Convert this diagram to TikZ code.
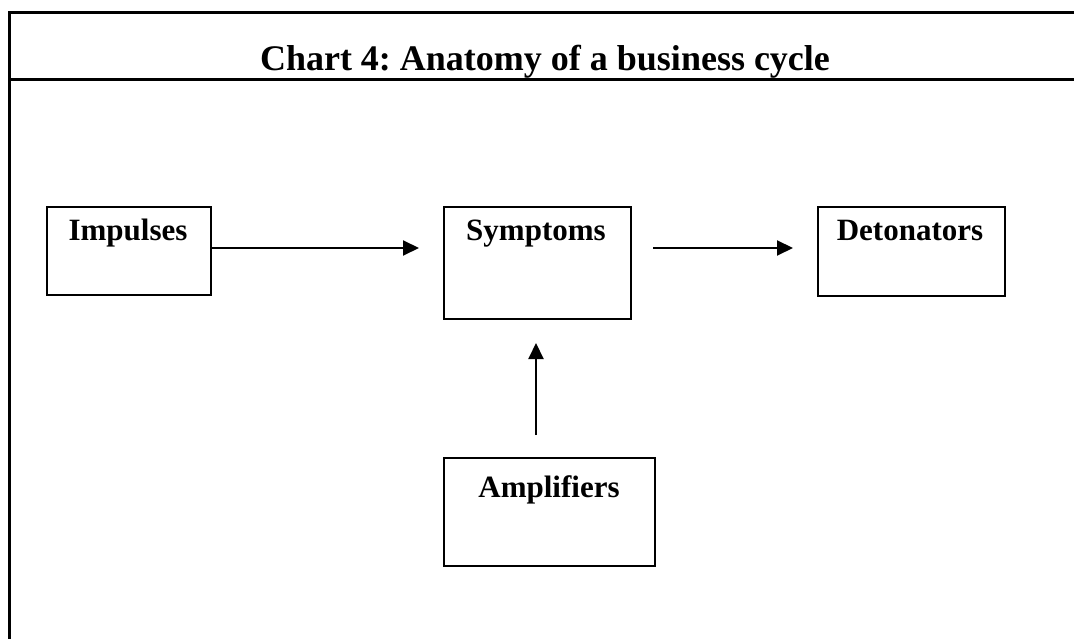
\documentclass[tikz,border=0pt]{standalone}
\usepackage{fontspec}
\setmainfont{Liberation Serif}
\usetikzlibrary{arrows.meta}
\frenchspacing
\tikzset{
  frameline/.style={line width=3pt},
  box/.style={draw, line width=1.8pt, rectangle, anchor=north west, inner sep=0pt},
  lbl/.style={font=\fontsize{31}{31}\selectfont\bfseries, anchor=base, inner sep=0pt},
  ttl/.style={font=\fontsize{36}{36}\selectfont\bfseries, anchor=base, inner sep=0pt},
  arr/.style={line width=2pt, -{Triangle[length=16pt,width=15pt]}},
}
\begin{document}
\begin{tikzpicture}[x=1pt,y=-1pt]
\useasboundingbox (0,0) rectangle (1074,639);
% frame
\coordinate (tl) at (9,13);
\coordinate (tr) at (1074,13);
\coordinate (bl) at (9,639);
\coordinate (sl) at (9,80);
\coordinate (sr) at (1074,80);
\draw[frameline] (bl) -- (tl) -- (tr);
\draw[frameline] (sl) -- (sr);
\node[ttl] (title) at (545,71) {Chart 4: Anatomy of a business cycle};
% boxes
\node[box, minimum width=164pt, minimum height=88pt] (imp) at (46,206) {};
\node[box, minimum width=187pt, minimum height=112pt] (sym) at (443,206) {};
\node[box, minimum width=187pt, minimum height=89pt] (det) at (817,206) {};
\node[box, minimum width=211pt, minimum height=108pt] (amp) at (443,457) {};
\node[lbl] (impt) at (128,241) {Impulses};
\node[lbl] (symt) at (536,241) {Symptoms};
\node[lbl] (dett) at (910,241) {Detonators};
\node[lbl] (ampt) at (549,497) {Amplifiers};
% connectors
\coordinate (a1s) at (imp.east |- 0,248);
\coordinate (a1e) at (419,248);
\coordinate (a2s) at (653,248);
\coordinate (a2e) at (793,248);
\coordinate (a3s) at (536,435);
\coordinate (a3e) at (536,343);
\draw[arr] (a1s) -- (a1e);
\draw[arr] (a2s) -- (a2e);
\draw[arr] (a3s) -- (a3e);
\end{tikzpicture}
\end{document}
